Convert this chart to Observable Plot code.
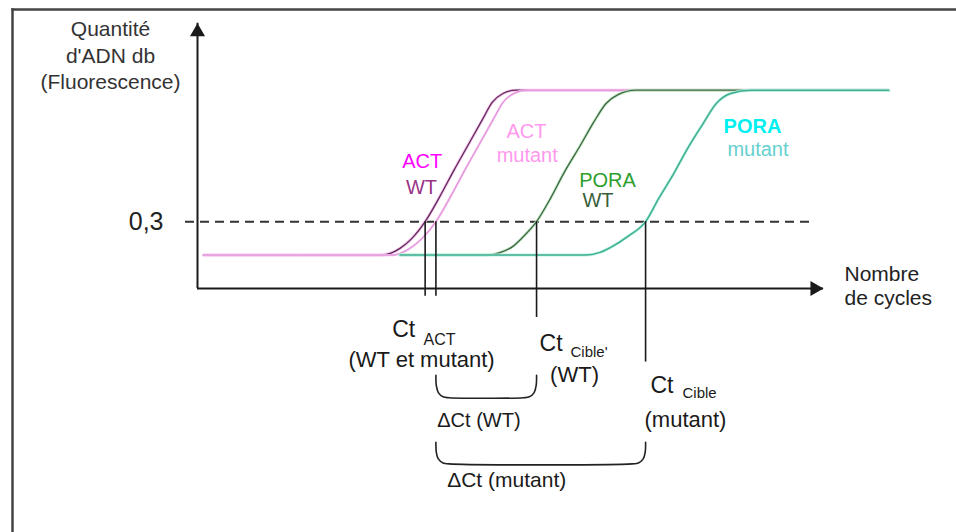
<!DOCTYPE html>
<html>
<head>
<meta charset="utf-8">
<script src="https://cdn.jsdelivr.net/npm/d3@7"></script>
<script src="https://cdn.jsdelivr.net/npm/@observablehq/plot@0.6"></script>
<style>
  html, body { margin: 0; padding: 0; background: #fff; }
  #chart svg { display: block; }
</style>
</head>
<body>
<div id="chart"></div>
<script>
// ---- Data (cycles, fluorescence) ----
const threshold = 0.3;
const baseline = 0.15;
const plateau = 0.89;

const actWT = [[0.5,0.15],[15.3,0.15],[16.1,0.158],[16.9,0.18],[17.9,0.225],[19.0,0.3],[20.2,0.41],[21.4,0.53],[22.6,0.645],[23.8,0.76],[24.6,0.835],[25.5,0.875],[26.6,0.89],[57.7,0.89]];
const actMutant = [[0.5,0.15],[16.3,0.15],[17.1,0.162],[18.0,0.19],[18.9,0.233],[19.9,0.3],[21.1,0.41],[22.3,0.53],[23.5,0.645],[24.7,0.76],[25.5,0.835],[26.4,0.875],[27.5,0.89],[57.7,0.89]];
const poraWT = [[16.9,0.15],[24.2,0.15],[25.3,0.162],[26.3,0.188],[27.2,0.233],[28.3,0.3],[29.5,0.408],[30.6,0.52],[31.9,0.637],[33.1,0.749],[34.1,0.83],[35.1,0.87],[36.6,0.89],[57.7,0.89]];
const poraMutant = [[16.9,0.15],[32.4,0.15],[33.6,0.162],[34.6,0.188],[35.9,0.233],[37.4,0.3],[38.5,0.404],[39.7,0.511],[40.9,0.628],[42.2,0.74],[43.3,0.83],[44.5,0.875],[46.2,0.89],[57.7,0.89]];

// Ct values (cycle at which each curve crosses the threshold)
const ctNames = ["ACT WT", "ACT mutant", "PORA WT", "PORA mutant"];
const ctValues = [19.0, 19.9, 28.3, 37.4];
const ctLineEnds = [-0.035, -0.035, -0.13, -0.33];

// Delta Ct braces: [from Ct index, to Ct index, top, bottom]
const braces = [[1, 2, -0.39, -0.49], [1, 3, -0.69, -0.787]];

// Axis extents
const xAxisEnd = 52.25;
const yAxisEnd = 1.19;
const thresholdSpan = [-1.0, 51.2];

// Text labels
const curveLabels = [
  {text: "ACT", x: 18.76, y: 0.5415, color: "#ff00ff", weight: "normal"},
  {text: "WT", x: 18.70, y: 0.4218, color: "#993388", weight: "normal"},
  {text: "ACT", x: 27.46, y: 0.676, color: "#ff99ee", weight: "normal"},
  {text: "mutant", x: 27.52, y: 0.5667, color: "#ff99ee", weight: "normal"},
  {text: "PORA", x: 34.22, y: 0.4545, color: "#2e9e2e", weight: "normal"},
  {text: "WT", x: 33.43, y: 0.3648, color: "#3a5e3a", weight: "normal"},
  {text: "PORA", x: 46.32, y: 0.6968, color: "#00f0f0", weight: "bold"},
  {text: "mutant", x: 46.78, y: 0.5967, color: "#66d0d0", weight: "normal"}
];
const ctLabels = [
  {text: "Ct", x: 16.25, y: -0.2185, size: 23, anchor: "start"},
  {text: "ACT", x: 18.86, y: -0.2557, size: 16, anchor: "start"},
  {text: "(WT et mutant)", x: 18.70, y: -0.3531, size: 22, anchor: "middle"},
  {text: "Ct", x: 28.55, y: -0.2782, size: 23, anchor: "start"},
  {text: "Cible'", x: 31.13, y: -0.3051, size: 15, anchor: "start"},
  {text: "(WT)", x: 31.47, y: -0.4204, size: 22, anchor: "middle"},
  {text: "Ct", x: 37.81, y: -0.4711, size: 23, anchor: "start"},
  {text: "Cible", x: 40.48, y: -0.4935, size: 15, anchor: "start"},
  {text: "(mutant)", x: 40.73, y: -0.6223, size: 22, anchor: "middle"},
  {text: "\u0394Ct (WT)", x: 20.01, y: -0.6223, size: 20, anchor: "start"},
  {text: "\u0394Ct (mutant)", x: 20.84, y: -0.8915, size: 21, anchor: "start"}
];
const yTitle = "Quantité\nd'ADN db\n(Fluorescence)";
const xTitle = "Nombre\nde cycles";

// ---- Helpers ----
const toRows = (arr) => arr.map(([x, y]) => ({x, y}));
function bracePoints(x1, x2, top, bottom) {
  const h = bottom - top;
  const offs = [0, 0.03, 0.2, 0.6, 1.1];
  const fr = [0, 0.45, 0.77, 0.96, 1];
  const left = offs.map((o, i) => ({x: x1 + o, y: top + fr[i] * h}));
  const right = offs.map((o, i) => ({x: x2 - o, y: top + fr[i] * h})).reverse();
  return left.concat(right);
}

const ink = "#1a1a1a";

const marks = [
  Plot.frame({anchor: "top", stroke: "#444", strokeWidth: 2.5}),
  Plot.frame({anchor: "left", stroke: "#444", strokeWidth: 2.5}),

  // threshold
  Plot.ruleY([threshold], {x1: thresholdSpan[0], x2: thresholdSpan[1], stroke: "#333", strokeWidth: 2, strokeDasharray: "9,6"}),

  // curves (halo + line)
  Plot.line(toRows(actWT), {x: "x", y: "y", curve: "monotone-x", stroke: "#f5c2ef", strokeWidth: 3}),
  Plot.line(toRows(actWT), {x: "x", y: "y", curve: "monotone-x", stroke: "#5e2a56", strokeWidth: 1.3}),
  Plot.line(toRows(actMutant), {x: "x", y: "y", curve: "monotone-x", stroke: "#f6b8ee", strokeWidth: 2.2}),
  Plot.line(toRows(actMutant), {x: "x", y: "y", curve: "monotone-x", stroke: "#d890d0", strokeWidth: 0.9}),
  Plot.line(toRows(poraWT), {x: "x", y: "y", curve: "monotone-x", stroke: "#c4ecc4", strokeWidth: 3}),
  Plot.line(toRows(poraWT), {x: "x", y: "y", curve: "monotone-x", stroke: "#3f6446", strokeWidth: 1.3}),
  Plot.line(toRows(poraMutant), {x: "x", y: "y", curve: "monotone-x", stroke: "#bff2e8", strokeWidth: 3}),
  Plot.line(toRows(poraMutant), {x: "x", y: "y", curve: "monotone-x", stroke: "#3fae8e", strokeWidth: 1.5}),

  // axes with arrowheads
  Plot.ruleX([0], {y1: 0, y2: yAxisEnd, stroke: ink, strokeWidth: 2}),
  Plot.ruleY([0], {x1: 0, x2: xAxisEnd, stroke: ink, strokeWidth: 2}),
  Plot.dot([{x: 0, y: yAxisEnd}], {x: "x", y: "y", symbol: "triangle", r: 5.6, fill: ink, stroke: "none", dy: 8.7}),
  Plot.dot([{x: xAxisEnd, y: 0}], {x: "x", y: "y", symbol: "triangle", r: 5.6, fill: ink, stroke: "none", rotate: 90, dx: -8.7}),

  // Ct drop lines
  Plot.ruleX(ctValues.map((ct, i) => ({ct, end: ctLineEnds[i], name: ctNames[i]})), {x: "ct", y1: threshold, y2: "end", stroke: ink, strokeWidth: 1.6}),

  // Delta Ct braces
  ...braces.map(([a, b, top, bottom]) =>
    Plot.line(bracePoints(ctValues[a], ctValues[b], top, bottom), {x: "x", y: "y", curve: "catmull-rom", stroke: "#222", strokeWidth: 1.6})),

  // Axis texts
  Plot.text([{x: -7.26, y: 0.896}], {x: "x", y: "y", text: () => yTitle, fontSize: 21, lineHeight: 1.25, lineAnchor: "bottom", textAnchor: "middle", fill: "#333"}),
  Plot.text([{x: 0, y: threshold}], {x: "x", y: "y", text: () => "0,3", fontSize: 25, dx: -34, textAnchor: "end", lineAnchor: "middle", fill: "#222"}),
  Plot.text([{x: 54.0, y: -0.076}], {x: "x", y: "y", text: () => xTitle, fontSize: 21, lineHeight: 1.143, lineAnchor: "bottom", textAnchor: "start", fill: "#222"}),

  // Curve labels
  ...curveLabels.map(l => Plot.text([l], {x: "x", y: "y", text: "text", fill: l.color, fontSize: 20, fontWeight: l.weight, textAnchor: "middle", lineAnchor: "bottom"})),

  // Ct labels
  ...ctLabels.map(l => Plot.text([l], {x: "x", y: "y", text: "text", fill: "#1a1a1a", fontSize: l.size, textAnchor: l.anchor, lineAnchor: "bottom"}))
];

const chart = Plot.plot({
  width: 956,
  height: 532,
  marginTop: 9,
  marginLeft: 12,
  marginRight: 0,
  marginBottom: 0,
  x: {domain: [0, 52], range: [197, 820], axis: null},
  y: {domain: [0, 1.18], range: [288, 25], axis: null},
  style: {fontFamily: "'Liberation Sans', Arial, sans-serif", background: "#fff", overflow: "visible"},
  marks
});
document.getElementById("chart").appendChild(chart);
</script>
</body>
</html>
